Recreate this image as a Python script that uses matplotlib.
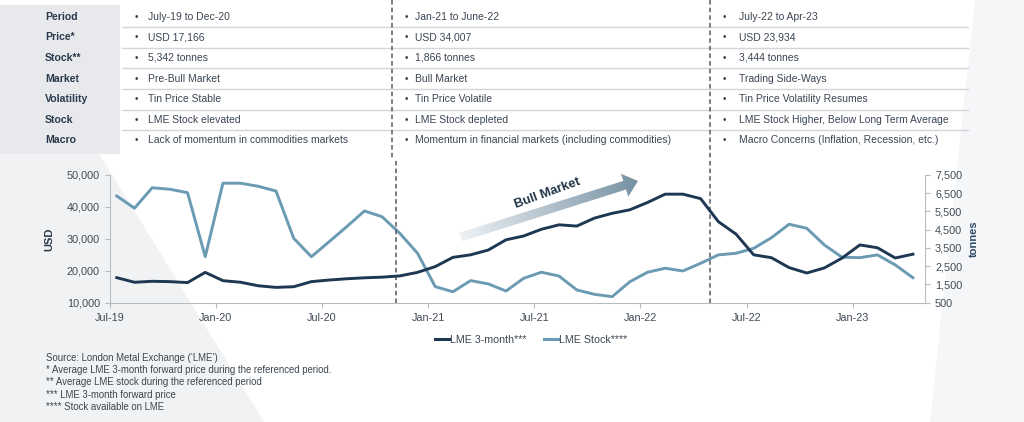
import numpy as np
import matplotlib
matplotlib.use("Agg")
import matplotlib.pyplot as plt
from matplotlib.lines import Line2D
from matplotlib.patches import Polygon, Rectangle
from matplotlib.colors import to_rgb
from matplotlib.ticker import FuncFormatter

plt.rcParams['font.family'] = ['Liberation Sans', 'DejaVu Sans']

# ---------------- data ----------------
month_ticks = ["Jul-19", "Jan-20", "Jul-20", "Jan-21", "Jul-21", "Jan-22", "Jul-22", "Jan-23"]
price_usd = [17840, 16400, 16700, 16600, 16300, 19500, 16900, 16400, 15300, 14800,
             15000, 16600, 17100, 17500, 17800, 18000, 18400, 19500, 21300, 24200,
             25000, 26500, 29700, 30900, 33000, 34400, 34000, 36500, 38000, 39100,
             41400, 44000, 44000, 42600, 35400, 31500, 25000, 24100, 21000, 19300,
             20900, 24000, 28100, 27200, 24000, 25200]
stock_t = [6350, 5680, 6800, 6720, 6530, 3020, 7050, 7050, 6880, 6620,
           4030, 3020, 3840, 4670, 5530, 5210, 4300, 3210, 1380, 1100,
           1710, 1530, 1140, 1840, 2170, 1960, 1200, 960, 830, 1650,
           2170, 2390, 2240, 2660, 3120, 3210, 3480, 4060, 4800, 4580,
           3660, 2990, 2970, 3120, 2570, 1870]
period_breaks = [16.17, 33.93]   # months after Jul-19

row_labels = ["Period", "Price*", "Stock**", "Market", "Volatility", "Stock", "Macro"]
col1 = ["July-19 to Dec-20", "USD 17,166", "5,342 tonnes", "Pre-Bull Market",
        "Tin Price Stable", "LME Stock elevated", "Lack of momentum in commodities markets"]
col2 = ["Jan-21 to June-22", "USD 34,007", "1,866 tonnes", "Bull Market",
        "Tin Price Volatile", "LME Stock depleted",
        "Momentum in financial markets (including commodities)"]
col3 = ["July-22 to Apr-23", "USD 23,934", "3,444 tonnes", "Trading Side-Ways",
        "Tin Price Volatility Resumes", "LME Stock Higher, Below Long Term Average",
        "Macro Concerns (Inflation, Recession, etc.)"]
footnotes = ["Source: London Metal Exchange (\u2018LME\u2019)",
             "* Average LME 3-month forward price during the referenced period.",
             "** Average LME stock during the referenced period",
             "*** LME 3-month forward price",
             "**** Stock available on LME"]
series_names = ["LME 3-month***", "LME Stock****"]

NAVY = '#1e3853'
STEEL = '#6b9ab3'
TXT = '#3a4552'
LBL = '#2a3a4c'

# ---------------- figure ----------------
W, H = 1024, 422
fig = plt.figure(figsize=(W / 100, H / 100), dpi=100)
fig.patch.set_facecolor('white')

ov = fig.add_axes([0, 0, 1, 1])
ov.set_xlim(0, W)
ov.set_ylim(H, 0)
ov.axis('off')
ov.set_zorder(0)

# subtle background shapes
ov.add_patch(Polygon([(0, 150), (97, 150), (264, H), (0, H)], closed=True,
                     fc='#f1f2f4', ec='none', zorder=0))
ov.add_patch(Polygon([(975, 0), (W, 0), (W, H), (930, H)], closed=True,
                     fc='#f5f6f8', ec='none', zorder=0))

# ---------------- table ----------------
ov.add_patch(Rectangle((0, 5), 120, 149, fc='#e7e9ec', ec='none', zorder=1))
row_y0, row_dy = 16.8, 20.6
for k in range(len(row_labels)):
    y = row_y0 + k * row_dy
    ov.text(45, y, row_labels[k], fontsize=7.6, fontweight='bold', color=LBL,
            ha='left', va='center', zorder=3)
    for bx, tx, txt in [(136.7, 147.7, col1[k]), (406.7, 415.0, col2[k]), (724.3, 738.7, col3[k])]:
        ov.text(bx, y, '\u2022', fontsize=7.0, color=TXT, ha='center', va='center', zorder=3)
        ov.text(tx, y, txt, fontsize=7.5, color=TXT, ha='left', va='center', zorder=3)
for k in range(len(row_labels) - 1):
    ys = 27.3 + k * 20.55
    ov.plot([122, 968], [ys, ys], color='#d2d6db', lw=1.0, zorder=2)
for xd in [392, 710]:
    ov.plot([xd, xd], [0, 160], color='#555b62', lw=1.1, ls=(0, (3, 2)), zorder=2)

# ---------------- gradient arrow ----------------
T = np.array([461.0, 237.0])
P = np.array([638.0, 181.0])
L = np.linalg.norm(P - T)
u = (P - T) / L
n = np.array([-u[1], u[0]])
if n[1] < 0:
    n = -n
B = P - 14 * u
poly = [T + 4.5 * n, B + 4.5 * n, B + 12 * n, P, B - 12 * n, B - 4.5 * n, T - 4.5 * n]
x0, x1, y0, y1 = 450, 650, 165, 250
gx, gy = np.meshgrid(np.linspace(x0, x1, 400), np.linspace(y0, y1, 170))
t = np.clip(((gx - T[0]) * u[0] + (gy - T[1]) * u[1]) / L, 0, 1)
c0 = np.array(to_rgb('#eef2f5'))
c1 = np.array(to_rgb('#7791a3'))
img = c0[None, None, :] * (1 - t[..., None]) + c1[None, None, :] * t[..., None]
arrow_patch = Polygon(poly, closed=True, fc='none', ec='none')
ov.add_patch(arrow_patch)
im = ov.imshow(img, extent=(x0, x1, y1, y0), origin='upper', zorder=1, aspect='auto')
im.set_clip_path(arrow_patch)
ov.set_xlim(0, W)
ov.set_ylim(H, 0)
ov.text(547.5, 193.5, 'Bull Market', rotation=20, fontsize=9.3, fontweight='bold',
        color='#1f3347', ha='center', va='center', rotation_mode='anchor', zorder=3)

# ---------------- chart ----------------
axl, axr, axt, axb = 109.7, 925.3, 175.0, 302.7
ax = fig.add_axes([axl / W, 1 - axb / H, (axr - axl) / W, (axb - axt) / H])
ax2 = ax.twinx()
ax.set_zorder(3)
ax2.set_zorder(2)
ax.patch.set_visible(False)
ax2.patch.set_visible(False)

xs = np.arange(len(price_usd)) + 0.4
ax.plot(xs, price_usd, color=NAVY, lw=2.1, solid_joinstyle='round', zorder=3)
ax2.plot(xs, stock_t, color=STEEL, lw=2.1, solid_joinstyle='round', zorder=3)

ax.set_xlim(0, 46.1)
ax.set_ylim(10000, 50000)
ax2.set_ylim(500, 7500)
ax.set_xticks(np.arange(len(month_ticks)) * 6)
ax.set_xticklabels(month_ticks)
ax.set_yticks(np.arange(10000, 50001, 10000))
ax2.set_yticks(np.arange(500, 7501, 1000))
fmt = FuncFormatter(lambda v, p: f"{v:,.0f}")
ax.yaxis.set_major_formatter(fmt)
ax2.yaxis.set_major_formatter(fmt)

for a in (ax, ax2):
    for s in a.spines.values():
        s.set_color('#b7bcc1')
        s.set_linewidth(0.8)
    a.spines['top'].set_visible(False)
    a.tick_params(labelsize=7.8, labelcolor='#404a55', color='#b7bcc1', length=3.5, width=0.8)
ax.spines['right'].set_visible(False)
ax2.spines['left'].set_visible(False)
ax2.spines['bottom'].set_visible(False)
ax.tick_params(axis='x', pad=4)

ax.set_ylabel('USD', fontsize=8, fontweight='bold', color=LBL, labelpad=9)
ax2.set_ylabel('tonnes', fontsize=8, fontweight='bold', color='#2c4a66', labelpad=5)

for xb in period_breaks:
    ax.axvline(xb, ymin=0, ymax=(axb - 160) / (axb - axt), color='#555b62', lw=1.1,
               ls=(0, (3, 2)), clip_on=False, zorder=1)

# legend
handles = [Line2D([], [], color=NAVY, lw=2.2), Line2D([], [], color=STEEL, lw=2.2)]
fig.legend(handles, series_names, loc='center', bbox_to_anchor=(531 / W, 1 - 340 / H),
           ncol=2, frameon=False, fontsize=7.7, handlelength=1.3, handletextpad=0.05,
           columnspacing=1.7, labelcolor='#3c4650')

# footnotes
for k, fn in enumerate(footnotes):
    ov.text(46, 357.7 + k * 12.3, fn, fontsize=6.9, color='#3c4650', ha='left', va='center')

fig.savefig('out.png', dpi=100, facecolor='white')
